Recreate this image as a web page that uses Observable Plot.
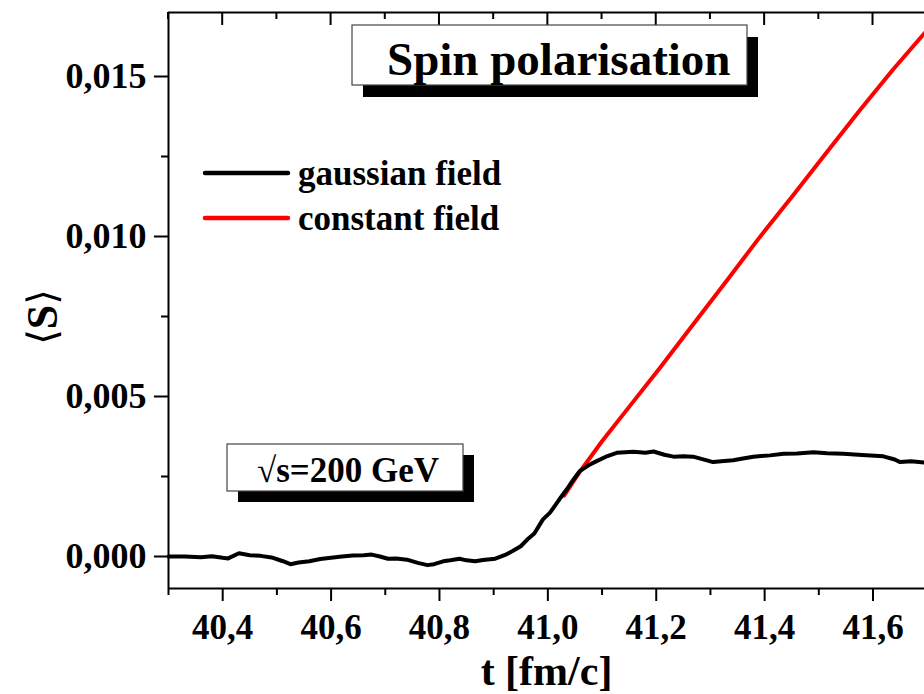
<!DOCTYPE html>
<html>
<head>
<meta charset="utf-8">
<script src="https://cdn.jsdelivr.net/npm/d3@7"></script>
<script src="https://cdn.jsdelivr.net/npm/@observablehq/plot@0.6"></script>
<style>
  html, body { margin: 0; padding: 0; background: #fff; }
  #chart { width: 924px; height: 694px; overflow: hidden; }
</style>
</head>
<body>
<div id="chart"></div>
<script>
// ---- data ----
const gaussT = [40.30, 40.33, 40.36, 40.38, 40.40, 40.41, 40.43, 40.45, 40.47, 40.49, 40.51, 40.525, 40.54, 40.56, 40.58, 40.60, 40.62, 40.64, 40.66, 40.675, 40.69, 40.705, 40.72, 40.74, 40.76, 40.778, 40.79, 40.807, 40.82, 40.837, 40.85, 40.866, 40.88, 40.903, 40.92, 40.935, 40.95, 40.962, 40.975, 40.991, 41.004, 41.021, 41.035, 41.047, 41.059, 41.075, 41.09, 41.11, 41.127, 41.158, 41.18, 41.195, 41.215, 41.232, 41.25, 41.268, 41.29, 41.305, 41.32, 41.342, 41.36, 41.379, 41.41, 41.435, 41.46, 41.49, 41.515, 41.545, 41.58, 41.619, 41.64, 41.65, 41.67, 41.70];
const gaussS = [0.00000, 0.00000, -0.00002, 0.00001, -0.00004, -0.00006, 0.00010, 0.00004, 0.00002, -0.00003, -0.00014, -0.00024, -0.00019, -0.00015, -0.00008, -0.00004, 0.00000, 0.00003, 0.00004, 0.00006, 0.00000, -0.00007, -0.00006, -0.00010, -0.00020, -0.00027, -0.00024, -0.00015, -0.00012, -0.00007, -0.00012, -0.00015, -0.00011, -0.00007, 0.00004, 0.00017, 0.00032, 0.00053, 0.00072, 0.00116, 0.00137, 0.00178, 0.00210, 0.00240, 0.00267, 0.00285, 0.00298, 0.00314, 0.00324, 0.00327, 0.00324, 0.00328, 0.00318, 0.00312, 0.00313, 0.00312, 0.00302, 0.00295, 0.00298, 0.00301, 0.00306, 0.00312, 0.00316, 0.00321, 0.00322, 0.00326, 0.00323, 0.00321, 0.00317, 0.00313, 0.00303, 0.00295, 0.00298, 0.00293];

const constT = [41.03, 41.059, 41.10, 41.146, 41.207, 41.268, 41.33, 41.391, 41.453, 41.515, 41.576, 41.637, 41.70];
const constS = [0.00190, 0.00265, 0.00360, 0.00459, 0.00590, 0.00725, 0.00862, 0.00998, 0.01130, 0.01264, 0.01395, 0.01522, 0.01645];

const xMajor = [40.4, 40.6, 40.8, 41.0, 41.2, 41.4, 41.6];
const xMinor = [40.3, 40.5, 40.7, 40.9, 41.1, 41.3, 41.5];
const yMajor = [0, 0.005, 0.010, 0.015];
const yMinor = [0.0025, 0.0075, 0.0125];

const xDomain = [40.3, 41.695];
const yDomain = [-0.001, 0.017];

const titleText = "Spin polarisation";
const seriesNames = ["gaussian field", "constant field"];
const seriesColors = ["#000000", "#ff0000"];
const energyText = "\u221As=200 GeV";
const xLabel = "t [fm/c]";
const yLabelParts = ["\u27E8", "S", "\u27E9"];

// ---- tables ----
const gauss = gaussT.map((t, i) => ({t, s: gaussS[i]}));
const constant = constT.map((t, i) => ({t, s: constS[i]}));
const fmtX = d => d.toFixed(1).replace(".", ",");
const fmtY = d => d.toFixed(3).replace(".", ",");
const serif = '"Liberation Serif", "Times New Roman", "DejaVu Serif", serif';

// top inward ticks drawn through the x scale
function topTicks(index, scales, values, dims) {
  const g = d3.create("svg:g").attr("stroke", "#000").attr("stroke-width", 2);
  const y0 = dims.marginTop;
  xMajor.forEach(v => g.append("line").attr("x1", scales.x(v)).attr("x2", scales.x(v)).attr("y1", y0).attr("y2", y0 + 13));
  xMinor.forEach(v => g.append("line").attr("x1", scales.x(v)).attr("x2", scales.x(v)).attr("y1", y0).attr("y2", y0 + 7));
  return g.node();
}

// annotation boxes, legend and y label
function annotations(index, scales, values, dims) {
  const L = dims.marginLeft, T = dims.marginTop;
  const g = d3.create("svg:g").attr("font-family", serif).attr("font-weight", "bold").attr("text-anchor", "start");
  function box(x, y, w, h, sx, sy) {
    g.append("rect").attr("x", L + x + sx).attr("y", T + y + sy).attr("width", w).attr("height", h).attr("fill", "#000");
    g.append("rect").attr("x", L + x).attr("y", T + y).attr("width", w).attr("height", h).attr("fill", "#fff").attr("stroke", "#444").attr("stroke-width", 1.2);
  }
  // title
  box(184, 13, 395, 60, 11, 12);
  g.append("text").attr("x", L + 219).attr("y", T + 63).attr("font-size", 47).attr("fill", "#000").text(titleText);
  // legend
  seriesNames.forEach((name, i) => {
    const y = T + 161 + i * 45;
    g.append("line").attr("x1", L + 37).attr("x2", L + 120).attr("y1", y).attr("y2", y)
      .attr("stroke", seriesColors[i]).attr("stroke-width", 4.5).attr("stroke-linecap", "round");
    g.append("text").attr("x", L + 130).attr("y", y + 12).attr("font-size", 35).attr("fill", "#000").text(name);
  });
  // energy box
  box(59, 432, 236, 47, 11, 11);
  g.append("text").attr("x", L + 89).attr("y", T + 470).attr("font-size", 35).attr("fill", "#000").text(energyText);
  // y label
  const yl = g.append("text").attr("transform", `translate(${L - 126},${T + 305}) rotate(-90)`)
    .attr("text-anchor", "middle").attr("dominant-baseline", "central").attr("font-size", 44).attr("fill", "#000");
  yl.append("tspan").attr("font-weight", "normal").attr("font-family", '"DejaVu Serif", serif').attr("font-size", 40).text(yLabelParts[0]);
  yl.append("tspan").text(yLabelParts[1]);
  yl.append("tspan").attr("font-weight", "normal").attr("font-family", '"DejaVu Serif", serif').attr("font-size", 40).text(yLabelParts[2]);
  return g.node();
}

const chart = Plot.plot({
  width: 924,
  height: 694,
  marginLeft: 168,
  marginRight: 0,
  marginTop: 12,
  marginBottom: 106,
  style: {fontFamily: serif, fontWeight: "bold", background: "#fff", color: "#000", overflow: "hidden"},
  x: {domain: xDomain},
  y: {domain: yDomain},
  marks: [
    Plot.line(constant, {x: "t", y: "s", stroke: seriesColors[1], strokeWidth: 4, curve: "linear"}),
    Plot.line(gauss, {x: "t", y: "s", stroke: seriesColors[0], strokeWidth: 4, curve: "linear"}),
    Plot.ruleX([xDomain[0]], {stroke: "#000", strokeWidth: 2}),
    Plot.ruleY([yDomain[1]], {stroke: "#000", strokeWidth: 2}),
    Plot.ruleY([yDomain[0]], {stroke: "#000", strokeWidth: 2}),
    Plot.axisX({anchor: "bottom", ticks: xMajor, tickSize: 13, tickPadding: 13, tickFormat: fmtX, fontSize: 35, strokeWidth: 2, label: null}),
    Plot.axisX({anchor: "bottom", ticks: xMinor, tickSize: 7, tickFormat: () => "", strokeWidth: 2, label: null}),
    Plot.axisY({anchor: "left", ticks: yMajor, tickSize: 14, tickPadding: 8, tickFormat: fmtY, fontSize: 36, strokeWidth: 2, label: null}),
    Plot.axisY({anchor: "left", ticks: yMinor, tickSize: 7, tickFormat: () => "", strokeWidth: 2, label: null}),
    topTicks,
    annotations,
    Plot.text([xLabel], {frameAnchor: "bottom", text: d => d, dy: 96, fontSize: 42, fontWeight: "bold"})
  ]
});
document.getElementById("chart").appendChild(chart);
</script>
</body>
</html>
